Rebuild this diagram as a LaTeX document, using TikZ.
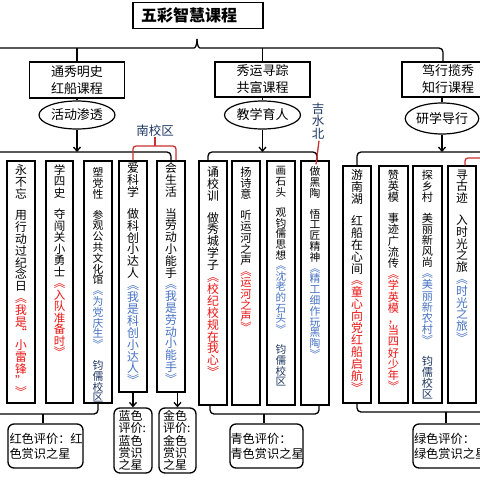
\documentclass[tikz,border=0pt]{standalone}
\usepackage{fontspec}
\setmainfont{Noto Sans CJK SC}
\usetikzlibrary{shapes.geometric,arrows.meta,calc}
\definecolor{cred}{RGB}{235,20,20}
\definecolor{cblue}{RGB}{70,114,196}
\definecolor{cnavy}{RGB}{31,56,100}
\definecolor{bred}{RGB}{200,50,50}
\makeatletter
\newcommand\seg[2]{\@tfor\vtc:=#2\do{\hbox to\hsize{\hss\textcolor{#1}{\vtc}\hss}}}
\makeatother
\newcommand\gp{\vskip10pt}
\newcommand\vcol[2]{\vbox{\fontsize{#1}{#1}\selectfont\hsize=16pt\baselineskip=#1\relax\lineskiplimit=-50pt\lineskip=0pt\relax #2}}
\tikzset{
  box/.style={draw, line width=1.3pt, inner sep=0pt},
  lvbox/.style={draw, line width=1.3pt, inner sep=0pt, align=center, font=\fontsize{13}{17}\selectfont},
  ell/.style={draw, ellipse, line width=1.2pt, inner sep=0pt, font=\fontsize{13}{13}\selectfont},
  conn/.style={line width=1.3pt, rounded corners=4pt},
  arr/.style={line width=1.3pt, -{Straight Barb[length=4pt,width=7pt]}},
  redl/.style={line width=1.3pt, draw=bred, rounded corners=3pt},
  coltext/.style={anchor=north, inner sep=0pt},
  evbox/.style={draw, line width=1.3pt, rounded corners=6pt, inner sep=0pt, align=left, font=\fontsize{12.2}{15}\selectfont},
  evnarrow/.style={evbox, font=\fontsize{12}{12.3}\selectfont},
}
\begin{document}
\begin{tikzpicture}[x=1pt,y=-1pt]
\useasboundingbox (0,0) rectangle (480,480);
\fill[white] (0,0) rectangle (480,480);

% title
\node[box, line width=1.5pt, minimum width=130pt, minimum height=26pt] (title) at (198,15.5) {};
\node[font=\fontsize{16}{16}\selectfont\bfseries, anchor=west, inner sep=0pt] (titletext) at (141,15.5) {五彩智慧课程};

% level 2 boxes
\node[lvbox, minimum width=95pt, minimum height=36pt] (n1) at (77,80) {通秀明史\\红船课程};
\node[lvbox, minimum width=95pt, minimum height=35pt] (n2) at (262.5,79.5) {秀运寻踪\\共富课程};
\node[lvbox, minimum width=92pt, minimum height=35pt] (n3) at (448,79.5) {笃行揽秀\\知行课程};

% ellipses
\node[ell, minimum width=76pt, minimum height=28pt] (e1) at (77,115) {活动渗透};
\node[ell, minimum width=76pt, minimum height=28pt] (e2) at (262.5,115) {教学育人};
\node[ell, minimum width=70pt, minimum height=31pt] (e3) at (442,118.5) {研学导行};

% top brace
\draw[conn] (0,48) -- (190,48) .. controls (195,48) and (197,46) .. (197,39);
\draw[conn] (197,39) .. controls (197,46) and (199,48) .. (204,48) -| (n3.north -| 443,0);
\draw[conn] (n1.north |- 0,48) -- (n1.north);
\draw[conn] (n2.north |- 0,48) -- (n2.north);

% box to ellipse
\draw[conn] (n1.south) -- (e1.north);
\draw[conn] (n2.south) -- (e2.north);
\draw[conn] (e3.north |- n3.south) -- (e3.north);

% vertical boxes
\node[box, minimum width=28pt, minimum height=242pt] (b1) at (21,282) {};
\node[box, minimum width=27pt, minimum height=242pt] (b2) at (59.5,282) {};
\node[box, minimum width=28pt, minimum height=242pt] (b3) at (98,282) {};
\node[box, minimum width=28pt, minimum height=231pt] (b4) at (133,276.5) {};
\node[box, minimum width=28pt, minimum height=231pt] (b5) at (171,276.5) {};
\node[box, minimum width=28pt, minimum height=244pt] (b6) at (213,283) {};
\node[box, minimum width=28pt, minimum height=244pt] (b7) at (246,283) {};
\node[box, minimum width=28pt, minimum height=244pt] (b8) at (281,283) {};
\node[box, minimum width=28pt, minimum height=244pt] (b9) at (315,283) {};
\node[box, minimum width=28pt, minimum height=237pt] (b10) at (357,284.5) {};
\node[box, minimum width=29pt, minimum height=237pt] (b11) at (393.5,284.5) {};
\node[box, minimum width=29pt, minimum height=237pt] (b12) at (427.5,284.5) {};
\node[box, minimum width=28pt, minimum height=237pt] (b13) at (462,284.5) {};

% column texts
\node[coltext] (t1) at (21,164.5) {\vcol{11.8pt}{\seg{black}{永不忘}\gp\seg{black}{用行动过纪念日}\seg{cred}{︽我是“小雷锋”︾}}};
\node[coltext] (t2) at (59.5,164.5) {\vcol{11.5pt}{\seg{black}{学四史}\gp\seg{black}{夺闯关小勇士}\seg{cred}{︽入队准备时︾}}};
\node[coltext] (t3) at (98,167.5) {\vcol{10.8pt}{\seg{black}{塑党性}\gp\seg{black}{参观公共文化馆}\seg{cblue}{︽为党庆生︾}\gp\seg{cnavy}{钧儒校区}}};
\node[coltext] (t4) at (133,162.5) {\vcol{11.9pt}{\seg{black}{爱科学}\gp\seg{black}{做科创小达人}\seg{cblue}{︽我是科创小达人︾}}};
\node[coltext] (t5) at (171,162.5) {\vcol{11.8pt}{\seg{black}{会生活}\gp\seg{black}{当劳动小能手}\seg{cblue}{︽我是劳动小能手︾}}};
\node[coltext] (t6) at (213,166.5) {\vcol{11.9pt}{\seg{black}{诵校训}\gp\seg{black}{做秀城学子}\seg{cred}{︽校纪校规在我心︾}}};
\node[coltext] (t7) at (246,166.5) {\vcol{11.2pt}{\seg{black}{扬诗意}\gp\seg{black}{听运河之声}\seg{cred}{︽运河之声︾}}};
\node[coltext] (t8) at (281,166.5) {\vcol{10.6pt}{\seg{black}{画石头}\gp\seg{black}{观钧儒思想}\seg{cblue}{︽沈老的石头︾}\gp\seg{cnavy}{钧儒校区}}};
\node[coltext] (t9) at (315,166.5) {\vcol{10.8pt}{\seg{black}{做黑陶}\gp\seg{black}{悟工匠精神}\seg{cblue}{︽精工细作玩黑陶︾}}};
\node[coltext] (t10) at (357,169.5) {\vcol{11.9pt}{\seg{black}{游南湖}\gp\seg{black}{红船在心间}\seg{cred}{︽童心向党红船启航︾}}};
\node[coltext] (t11) at (393.5,169.5) {\vcol{11.2pt}{\seg{black}{赞英模}\gp\seg{black}{事迹广流传}\seg{cred}{︽学英模，当四好少年︾}}};
\node[coltext] (t12) at (427.5,169.5) {\vcol{11.1pt}{\seg{black}{探乡村}\gp\seg{black}{美丽新风尚}\seg{cblue}{︽美丽新农村︾}\gp\seg{cnavy}{钧儒校区}}};
\node[coltext] (t13) at (462,169.5) {\vcol{11.8pt}{\seg{black}{寻古迹}\gp\seg{black}{入时光之旅}\seg{cblue}{︽时光之旅︾}}};

% arrows ellipse -> bars
\draw[arr] (e1.south) -- (e1.south |- 0,152);
\draw[arr] (e2.south) -- (e2.south |- 0,152);
\draw[arr] (e3.south) -- (e3.south |- 0,152);

% group bars
\draw[conn] (0,152) -| (b5.north);
\draw[conn] (b6.north -| 208,0) -- (208,152) -- (317,152) -- (b9.north -| 317,0);
\draw[conn] (b10.north) |- (485,152);

% campus labels
\node[text=cnavy, font=\fontsize{12.5}{12.5}\selectfont, inner sep=0pt] (lnan) at (155,131) {南校区};
\draw[redl] (b4.north) |- (lnan.south |- 0,146) -| (b5.north -| 176,0);
\draw[redl] (lnan.south) -- (lnan.south |- 0,146);
\node[coltext] (ljsb) at (318,102.5) {\vcol{12.5pt}{\seg{cnavy}{吉水北}}};
\draw[redl] ($(ljsb.south)+(1,1.5)$) -- ($(b9.north)+(1,4)$);
\draw[redl] (b13.north -| 465,0) |- (485,158);

% evaluation boxes
\node[evbox, minimum width=75pt, minimum height=44pt, text width=72pt] (ev1) at (45.5,446) {红色评价：红\\色赏识之星};
\node[evnarrow, minimum width=38pt, minimum height=65pt, text width=29pt] (ev2) at (133,440.5) {蓝色\\评价:\\蓝色\\赏识\\之星};
\node[evnarrow, minimum width=37pt, minimum height=65pt, text width=29pt] (ev3) at (177.5,440.5) {金色\\评价:\\金色\\赏识\\之星};
\node[evbox, minimum width=73pt, minimum height=44pt, text width=72pt] (ev4) at (266.5,446) {青色评价：\\青色赏识之星};
\node[evbox, minimum width=74pt, minimum height=44pt, text width=72pt] (ev5) at (450,446) {绿色评价：\\绿色赏识之星};

% bottom brackets
\draw[conn] (b3.south) |- (0,414);
\draw[conn] (43,414) -- (ev1.north -| 43,0);
\draw[conn] (b6.south -| 210,0) -- (210,414) -- (319,414) -- (b9.south -| 319,0);
\draw[conn] (264,414) -- (ev4.north -| 264,0);
\draw[conn] (b10.south) |- (485,412);
\draw[conn] (446,412) -- (ev5.north -| 446,0);

% arrows to narrow boxes
\draw[arr] (b4.south) -- (ev2.north);
\draw[arr] (ev3.north |- b5.south) -- (ev3.north);
\end{tikzpicture}
\end{document}
